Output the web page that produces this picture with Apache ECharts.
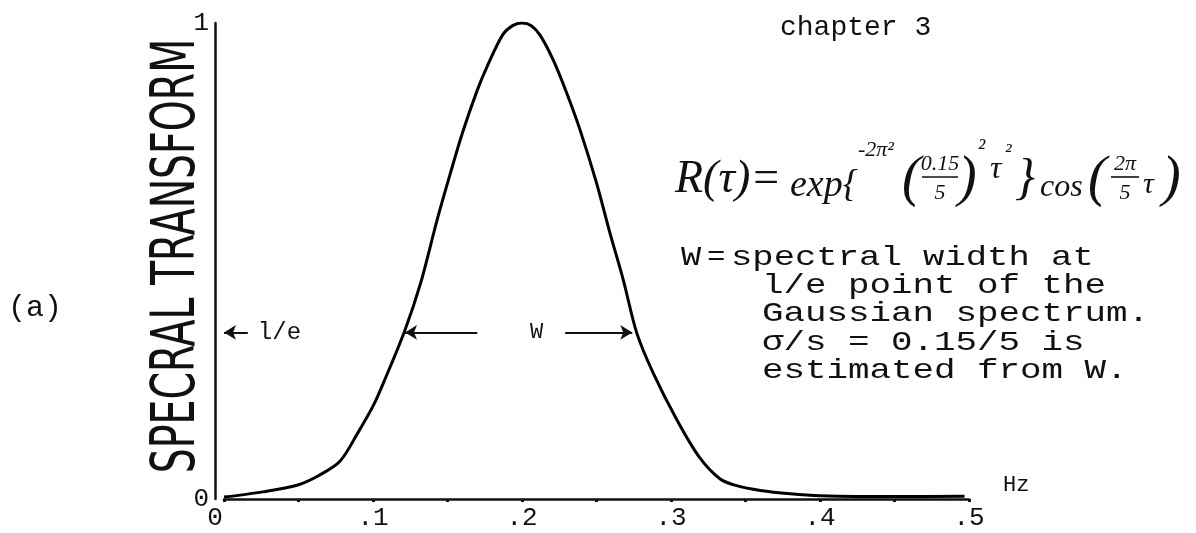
<!DOCTYPE html>
<html><head><meta charset="utf-8">
<script src="https://cdn.jsdelivr.net/npm/echarts@6/dist/echarts.min.js"></script>
<style>html,body{margin:0;padding:0;background:#fff}#c{width:1196px;height:533px}</style>
</head><body><div id="c"></div>
<script>
// ---- data ----
const freqHz = [0, 0.026, 0.049, 0.064, 0.078, 0.09, 0.1, 0.107, 0.121, 0.132, 0.143, 0.152, 0.16, 0.17, 0.1765, 0.187, 0.194, 0.2, 0.206, 0.212, 0.221, 0.23, 0.239, 0.25, 0.259, 0.268, 0.277, 0.288, 0.304, 0.319, 0.333, 0.344, 0.36, 0.38, 0.4, 0.45, 0.497];
const spectralTransform = [0.004, 0.015, 0.029, 0.05, 0.08, 0.14, 0.195, 0.244, 0.351, 0.454, 0.586, 0.685, 0.769, 0.859, 0.908, 0.975, 0.995, 1.0, 0.995, 0.975, 0.922, 0.853, 0.775, 0.664, 0.559, 0.46, 0.349, 0.265, 0.166, 0.088, 0.042, 0.028, 0.018, 0.011, 0.007, 0.005, 0.006];
const xTickValues = [0, 0.1, 0.2, 0.3, 0.4, 0.5];
const xTickLabels = ['0', '.1', '.2', '.3', '.4', '.5'];
const yTickValues = [0, 1];
const yTickLabels = ['0', '1'];
const oneOverELevel = 0.35;
const arrowOneOverE = [0, 0.016];
const arrowWLeft = [0.1215, 0.17];
const arrowWRight = [0.229, 0.274];

const MONO = "'Liberation Mono','DejaVu Sans Mono',monospace";
const SERIF = "'Liberation Serif','DejaVu Serif',serif";
const COND = "'DejaVu Sans Condensed','DejaVu Sans',sans-serif";
const INK = '#111';

function lbl(list, vals, v) {
  for (let i = 0; i < vals.length; i++) if (Math.abs(vals[i] - v) < 1e-6) return list[i];
  return '';
}
function txt(text, x, y, size, opt) {
  opt = opt || {};
  return {
    type: 'text', x: x, y: y, scaleX: opt.sx || 1, rotation: opt.rot || 0, silent: true,
    style: {
      text: text, fill: INK,
      font: (opt.italic ? 'italic ' : '') + size + 'px ' + (opt.family || MONO),
      textAlign: opt.align || 'left', textVerticalAlign: 'middle'
    }
  };
}
function bar(x1, x2, y) {
  return { type: 'line', silent: true, shape: { x1: x1, y1: y, x2: x2, y2: y }, style: { stroke: INK, lineWidth: 1.6 } };
}

const data = freqHz.map((f, i) => [f, spectralTransform[i]]);
const labelFont = { fontFamily: MONO, color: INK };

const chart = echarts.init(document.getElementById('c'), null, { renderer: 'canvas' });
chart.setOption({
  backgroundColor: '#fff',
  animation: false,
  grid: { left: 224, right: 227, top: 23, bottom: 34, containLabel: false, outerBoundsMode: 'none' },
  xAxis: {
    type: 'value', min: 0, max: 0.5, interval: 0.05,
    name: 'Hz', nameLocation: 'end', nameGap: 34,
    nameTextStyle: { fontFamily: MONO, fontSize: 22, color: INK, verticalAlign: 'bottom', padding: [0, 0, 3, 0] },
    axisLine: { show: true, onZero: false, lineStyle: { color: INK, width: 2.5 } },
    axisTick: { show: true, length: 3, lineStyle: { color: INK, width: 3 } },
    splitLine: { show: false },
    axisLabel: Object.assign({
      fontSize: 26, margin: 6,
      formatter: v => { const s = lbl(xTickLabels, xTickValues, v); return s === '0' ? '{z|0}' : s; },
      rich: { z: { fontFamily: MONO, fontSize: 26, color: INK, padding: [0, 18, 0, 0] } }
    }, labelFont)
  },
  yAxis: {
    type: 'value', min: 0, max: 1, interval: 1, offset: 9,
    axisLine: { show: true, onZero: false, lineStyle: { color: INK, width: 2.5 } },
    axisTick: { show: false },
    splitLine: { show: false },
    axisLabel: Object.assign({ fontSize: 26, margin: 6, formatter: v => lbl(yTickLabels, yTickValues, v) }, labelFont)
  },
  series: [{
    type: 'line', data: data, smooth: 0.3,
    showSymbol: false, lineStyle: { color: '#000', width: 3 },
    markLine: {
      silent: true, animation: false,
      lineStyle: { color: INK, width: 2, type: 'solid' },
      symbolSize: [11, 12],
      data: [
        [{ coord: [arrowOneOverE[0], oneOverELevel], symbol: 'arrow',
           label: { show: true, position: 'end', formatter: 'l/e', distance: 10, fontFamily: MONO, fontSize: 24, color: INK } },
         { coord: [arrowOneOverE[1], oneOverELevel], symbol: 'none' }],
        [{ coord: [arrowWLeft[0], oneOverELevel], symbol: 'arrow', label: { show: false } },
         { coord: [arrowWLeft[1], oneOverELevel], symbol: 'none' }],
        [{ coord: [arrowWRight[0], oneOverELevel], symbol: 'none',
           label: { show: true, position: 'start', formatter: 'W', distance: 22, fontFamily: MONO, fontSize: 22, color: INK } },
         { coord: [arrowWRight[1], oneOverELevel], symbol: 'arrow' }]
      ]
    }
  }],
  graphic: [
    // y-axis title (vertical hand lettering)
    txt('SPECRAL TRANSFORM', 178, 256, 60, { family: COND, rot: Math.PI / 2, sx: 0.73, align: 'center' }),
    txt('chapter 3', 780, 28, 28),
    txt('(a)', 8, 308, 30),
    // formula
    txt('R(τ)=', 675, 180, 46, { italic: true, family: SERIF }),
    txt('exp{', 790, 186, 38, { italic: true, family: SERIF }),
    txt('-2π²', 858, 150, 22, { italic: true, family: SERIF }),
    txt('(', 902, 180, 56, { italic: true, family: SERIF }),
    txt('0.15', 940, 164, 22, { italic: true, family: SERIF, align: 'center' }),
    bar(922, 958, 177),
    txt('5', 940, 193, 22, { italic: true, family: SERIF, align: 'center' }),
    txt(')', 958, 180, 56, { italic: true, family: SERIF }),
    txt('²', 978, 150, 24, { italic: true, family: SERIF }),
    txt('τ', 990, 170, 32, { italic: true, family: SERIF }),
    txt('²', 1005, 152, 22, { italic: true, family: SERIF }),
    txt('}', 1015, 180, 50, { italic: true, family: SERIF }),
    txt('cos', 1040, 188, 32, { italic: true, family: SERIF }),
    txt('(', 1088, 180, 56, { italic: true, family: SERIF }),
    txt('2π', 1125, 164, 22, { italic: true, family: SERIF, align: 'center' }),
    bar(1111, 1139, 177),
    txt('5', 1125, 193, 22, { italic: true, family: SERIF, align: 'center' }),
    txt('τ', 1143, 185, 30, { italic: true, family: SERIF }),
    txt(')', 1162, 180, 56, { italic: true, family: SERIF }),
    // typed note
    txt('W', 681, 258, 28, { sx: 1.2 }),
    txt('=', 707, 258, 28, { sx: 1.1 }),
    txt('spectral width at', 731, 258, 28, { sx: 1.27 }),
    txt('l/e point of the', 762, 286, 28, { sx: 1.28 }),
    txt('Gaussian spectrum.', 762, 314, 28, { sx: 1.28 }),
    txt('σ/s = 0.15/5 is', 762, 343, 28, { sx: 1.28 }),
    txt('estimated from W.', 762, 371, 28, { sx: 1.28 })
  ]
});
</script>
</body></html>
